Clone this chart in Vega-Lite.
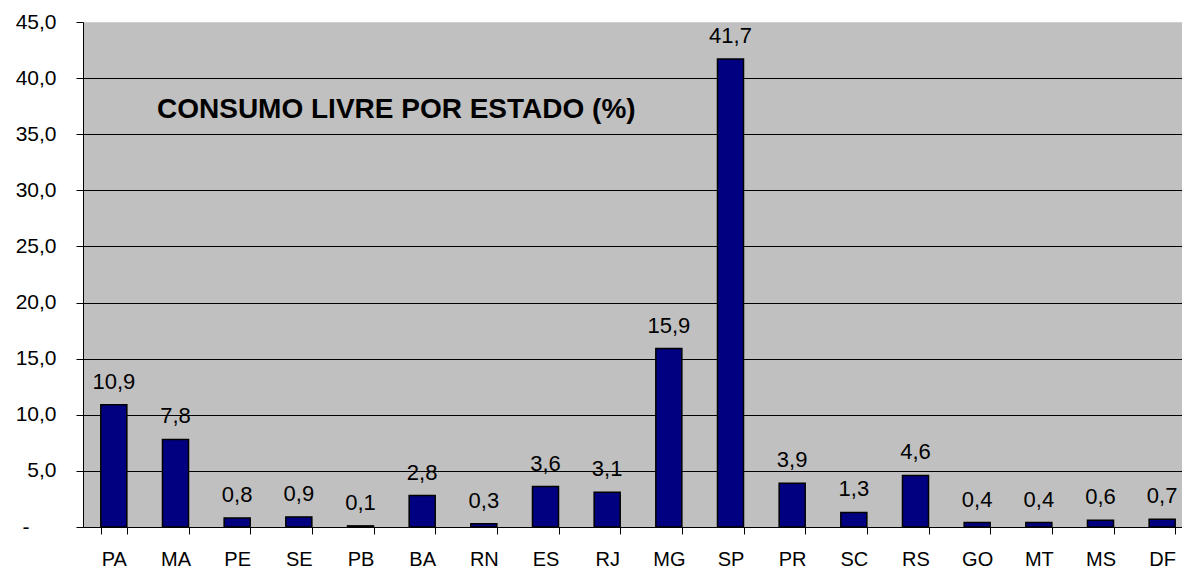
{
  "$schema": "https://vega.github.io/schema/vega-lite/v6.json",
  "width": 1110,
  "height": 505,
  "autosize": {"type": "none"},
  "padding": {"left": 83, "top": 22, "right": 0, "bottom": 45},
  "background": "white",
  "title": {
    "text": "CONSUMO LIVRE POR ESTADO (%)",
    "anchor": "start",
    "frame": "group",
    "orient": "top",
    "offset": 0,
    "baseline": "alphabetic",
    "dx": 74,
    "dy": 135,
    "font": "Liberation Sans",
    "fontSize": 28,
    "fontWeight": "bold",
    "color": "black",
    "limit": 0
  },
  "config": {
    "view": {"fill": "#c0c0c0", "stroke": null},
    "font": "Liberation Sans"
  },
  "data": {
    "values": [
      {"estado": "PA", "v": 10.9},
      {"estado": "MA", "v": 7.8},
      {"estado": "PE", "v": 0.8},
      {"estado": "SE", "v": 0.9},
      {"estado": "PB", "v": 0.1},
      {"estado": "BA", "v": 2.8},
      {"estado": "RN", "v": 0.3},
      {"estado": "ES", "v": 3.6},
      {"estado": "RJ", "v": 3.1},
      {"estado": "MG", "v": 15.9},
      {"estado": "SP", "v": 41.7},
      {"estado": "PR", "v": 3.9},
      {"estado": "SC", "v": 1.3},
      {"estado": "RS", "v": 4.6},
      {"estado": "GO", "v": 0.4},
      {"estado": "MT", "v": 0.4},
      {"estado": "MS", "v": 0.6},
      {"estado": "DF", "v": 0.7}
    ]
  },
  "transform": [
    {"calculate": "replace(format(datum.v, '.1f'), '.', ',')", "as": "lbl"}
  ],
  "encoding": {
    "x": {
      "field": "estado",
      "type": "nominal",
      "sort": null,
      "scale": {"paddingInner": 0.578, "paddingOuter": 0.289},
      "axis": {
        "title": null,
        "labelAngle": 0,
        "labelFont": "Liberation Sans",
        "labelFontSize": 20,
        "labelColor": "black",
        "labelPadding": 15,
        "tickBand": "extent",
        "tickSize": 7,
        "tickColor": "black",
        "domainColor": "black",
        "domainWidth": 1,
        "grid": false
      }
    },
    "y": {
      "field": "v",
      "type": "quantitative",
      "scale": {"domain": [0, 45], "nice": false, "zero": true},
      "axis": {
        "title": null,
        "values": [0, 5, 10, 15, 20, 25, 30, 35, 40, 45],
        "labelExpr": "datum.value == 0 ? '-' : replace(format(datum.value, '.1f'), '.', ',')",
        "labelFont": "Liberation Sans",
        "labelFontSize": 21,
        "labelColor": "black",
        "labelPadding": {"condition": {"test": "datum.value == 0", "value": 47}, "value": 20},
        "tickSize": 7,
        "tickColor": "black",
        "domainColor": "black",
        "grid": true,
        "gridColor": {"condition": {"test": "datum.value == 45", "value": "#d0d0d0"}, "value": "black"},
        "gridWidth": 1
      }
    }
  },
  "layer": [
    {
      "mark": {"type": "bar", "fill": "#000080", "stroke": "black", "strokeWidth": 1.5}
    },
    {
      "mark": {"type": "text", "baseline": "alphabetic", "dy": -16, "fontSize": 22, "font": "Liberation Sans", "color": "black"},
      "encoding": {"text": {"field": "lbl"}}
    }
  ]
}
